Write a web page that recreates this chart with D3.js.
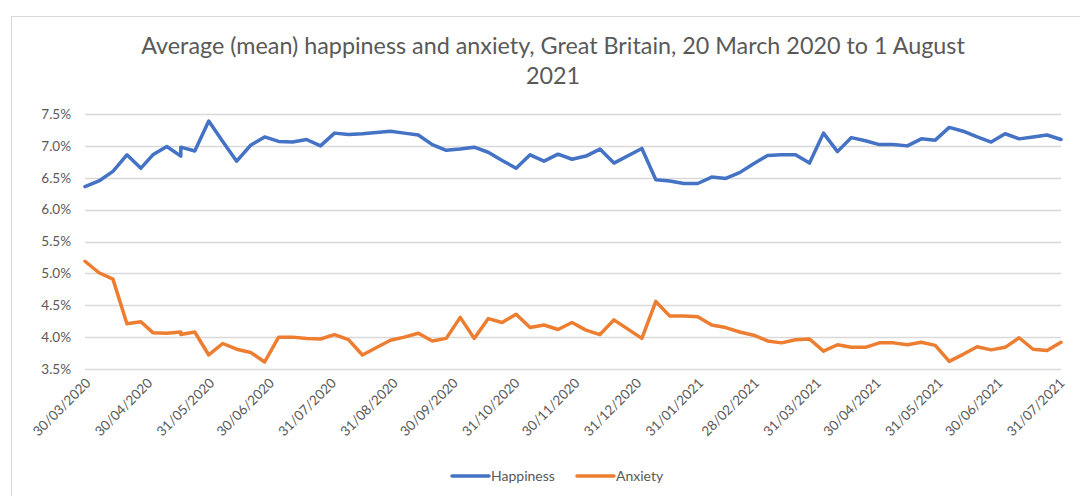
<!DOCTYPE html>
<html>
<head>
<meta charset="utf-8">
<script src="https://cdn.jsdelivr.net/npm/d3@7"></script>
<style>
  html, body { margin: 0; padding: 0; background: #fff; }
  svg { display: block; font-family: Lato, "Open Sans", sans-serif; }
</style>
</head>
<body>
<svg id="chart" width="1080" height="496"></svg>
<script>
// ---- data ----
const titleLines = ["Average (mean) happiness and anxiety, Great Britain, 20 March 2020 to 1 August", "2021"];
const seriesNames = ["Happiness", "Anxiety"];
const dates = [
  "2020-03-30","2020-04-06","2020-04-13","2020-04-20","2020-04-27","2020-05-03","2020-05-10","2020-05-17","2020-05-17","2020-05-24",
  "2020-05-31","2020-06-07","2020-06-14","2020-06-21","2020-06-28","2020-07-05","2020-07-12","2020-07-19","2020-07-26","2020-08-02",
  "2020-08-09","2020-08-16","2020-08-30","2020-09-06","2020-09-13","2020-09-20","2020-09-27","2020-10-04","2020-10-11","2020-10-18",
  "2020-10-25","2020-11-01","2020-11-08","2020-11-15","2020-11-22","2020-11-29","2020-12-06","2020-12-13","2020-12-20","2021-01-03",
  "2021-01-10","2021-01-17","2021-01-24","2021-01-31","2021-02-07","2021-02-14","2021-02-21","2021-02-28","2021-03-07","2021-03-14",
  "2021-03-21","2021-03-28","2021-04-04","2021-04-11","2021-04-18","2021-04-25","2021-05-02","2021-05-09","2021-05-16","2021-05-23",
  "2021-05-30","2021-06-06","2021-06-13","2021-06-20","2021-06-27","2021-07-04","2021-07-11","2021-07-18","2021-07-25","2021-08-01"
];
const happiness = [
  6.36,6.45,6.60,6.86,6.65,6.86,6.99,6.84,6.98,6.92,
  7.39,7.07,6.76,7.01,7.14,7.07,7.06,7.10,7.00,7.20,
  7.18,7.19,7.23,7.20,7.17,7.02,6.93,6.95,6.98,6.90,
  6.77,6.65,6.86,6.76,6.87,6.79,6.84,6.95,6.73,6.96,
  6.47,6.45,6.41,6.41,6.51,6.49,6.58,6.72,6.85,6.86,
  6.86,6.73,7.20,6.91,7.13,7.08,7.02,7.02,7.00,7.11,
  7.09,7.29,7.23,7.14,7.06,7.19,7.11,7.14,7.17,7.10
];
const anxiety = [
  5.19,5.01,4.91,4.21,4.24,4.07,4.06,4.08,4.04,4.08,
  3.72,3.90,3.81,3.76,3.61,4.00,4.00,3.98,3.97,4.04,
  3.96,3.72,3.95,4.00,4.06,3.94,3.98,4.31,3.98,4.29,
  4.23,4.36,4.15,4.19,4.12,4.23,4.11,4.04,4.27,3.98,
  4.56,4.33,4.33,4.32,4.19,4.15,4.08,4.03,3.94,3.91,
  3.96,3.97,3.78,3.88,3.84,3.84,3.91,3.91,3.88,3.92,
  3.87,3.62,3.73,3.85,3.80,3.84,3.99,3.81,3.79,3.92
];
const xTickDates = [
  "2020-03-30","2020-04-30","2020-05-31","2020-06-30","2020-07-31","2020-08-31","2020-09-30","2020-10-31","2020-11-30",
  "2020-12-31","2021-01-31","2021-02-28","2021-03-31","2021-04-30","2021-05-31","2021-06-30","2021-07-31"
];
const yTicks = [3.5, 4.0, 4.5, 5.0, 5.5, 6.0, 6.5, 7.0, 7.5];
const xDomain = ["2020-03-30", "2021-08-01"];

// ---- style ----
const colors = ["#4472C4", "#ED7D31"];
const textColor = "#595959";
const gridColor = "#D9D9D9";

const parse = d3.timeParse("%Y-%m-%d");
const fmt = d3.timeFormat("%d/%m/%Y");
const svg = d3.select("#chart");

const plot = { left: 85, right: 1061, top: 114, bottom: 369 };
const x = d3.scaleTime().domain(xDomain.map(parse)).range([plot.left, plot.right]);
const y = d3.scaleLinear().domain([3.5, 7.5]).range([plot.bottom, plot.top]);

// chart border
svg.append("rect")
  .attr("x", 11.5).attr("y", 16.5).attr("width", 1200).attr("height", 600)
  .attr("fill", "none").attr("stroke", gridColor).attr("stroke-width", 1);

// title
const title = svg.append("text")
  .attr("text-anchor", "middle")
  .attr("fill", textColor)
  .attr("font-size", 20);
title.selectAll("tspan").data(titleLines).join("tspan")
  .attr("x", 553)
  .attr("y", (d, i) => 54 + i * 30)
  .text(d => d);
const firstLen = title.select("tspan").node().getComputedTextLength();
title.attr("font-size", 20 * 824 / firstLen);

// gridlines
svg.append("g").selectAll("line").data(yTicks).join("line")
  .attr("x1", plot.left).attr("x2", plot.right)
  .attr("y1", d => Math.round(y(d)) + 0.5).attr("y2", d => Math.round(y(d)) + 0.5)
  .attr("stroke", gridColor).attr("stroke-width", 1.3);

// y axis
const yAxis = svg.append("g")
  .attr("transform", `translate(${plot.left - 14},0)`)
  .call(d3.axisLeft(y).tickValues(yTicks).tickFormat(d => d.toFixed(1) + "%").tickSize(0).tickPadding(0));
yAxis.select(".domain").remove();
yAxis.selectAll("text").attr("fill", textColor).attr("font-size", 13.5).attr("font-family", "Lato, sans-serif");

// x axis
const xAxis = svg.append("g")
  .attr("transform", `translate(0,${plot.bottom})`)
  .call(d3.axisBottom(x).tickValues(xTickDates.map(parse)).tickFormat(fmt).tickSize(0).tickPadding(0));
xAxis.select(".domain").remove();
xAxis.selectAll("text")
  .attr("fill", textColor).attr("font-size", 13.5).attr("font-family", "Lato, sans-serif")
  .attr("text-anchor", "end")
  .attr("dy", null).attr("y", null)
  .attr("transform", "translate(6,15) rotate(-45)");

// lines
const series = [happiness, anxiety];
const line = d3.line()
  .x((d, i) => x(parse(dates[i])))
  .y(d => y(d));
svg.append("g").selectAll("path").data(series).join("path")
  .attr("d", d => line(d))
  .attr("fill", "none")
  .attr("stroke", (d, i) => colors[i])
  .attr("stroke-width", 3.5)
  .attr("stroke-linejoin", "round")
  .attr("stroke-linecap", "round");

// legend
const legendItems = [
  { name: seriesNames[0], color: colors[0], x: 452 },
  { name: seriesNames[1], color: colors[1], x: 577 }
];
const lg = svg.append("g").selectAll("g").data(legendItems).join("g")
  .attr("transform", d => `translate(${d.x},476)`);
lg.append("line").attr("x1", 0).attr("x2", 37).attr("y1", 0).attr("y2", 0)
  .attr("stroke", d => d.color).attr("stroke-width", 3.5).attr("stroke-linecap", "round");
lg.append("text").attr("x", 39).attr("y", 0).attr("dy", "0.35em")
  .attr("fill", textColor).attr("font-size", 14)
  .text(d => d.name);
</script>
</body>
</html>
